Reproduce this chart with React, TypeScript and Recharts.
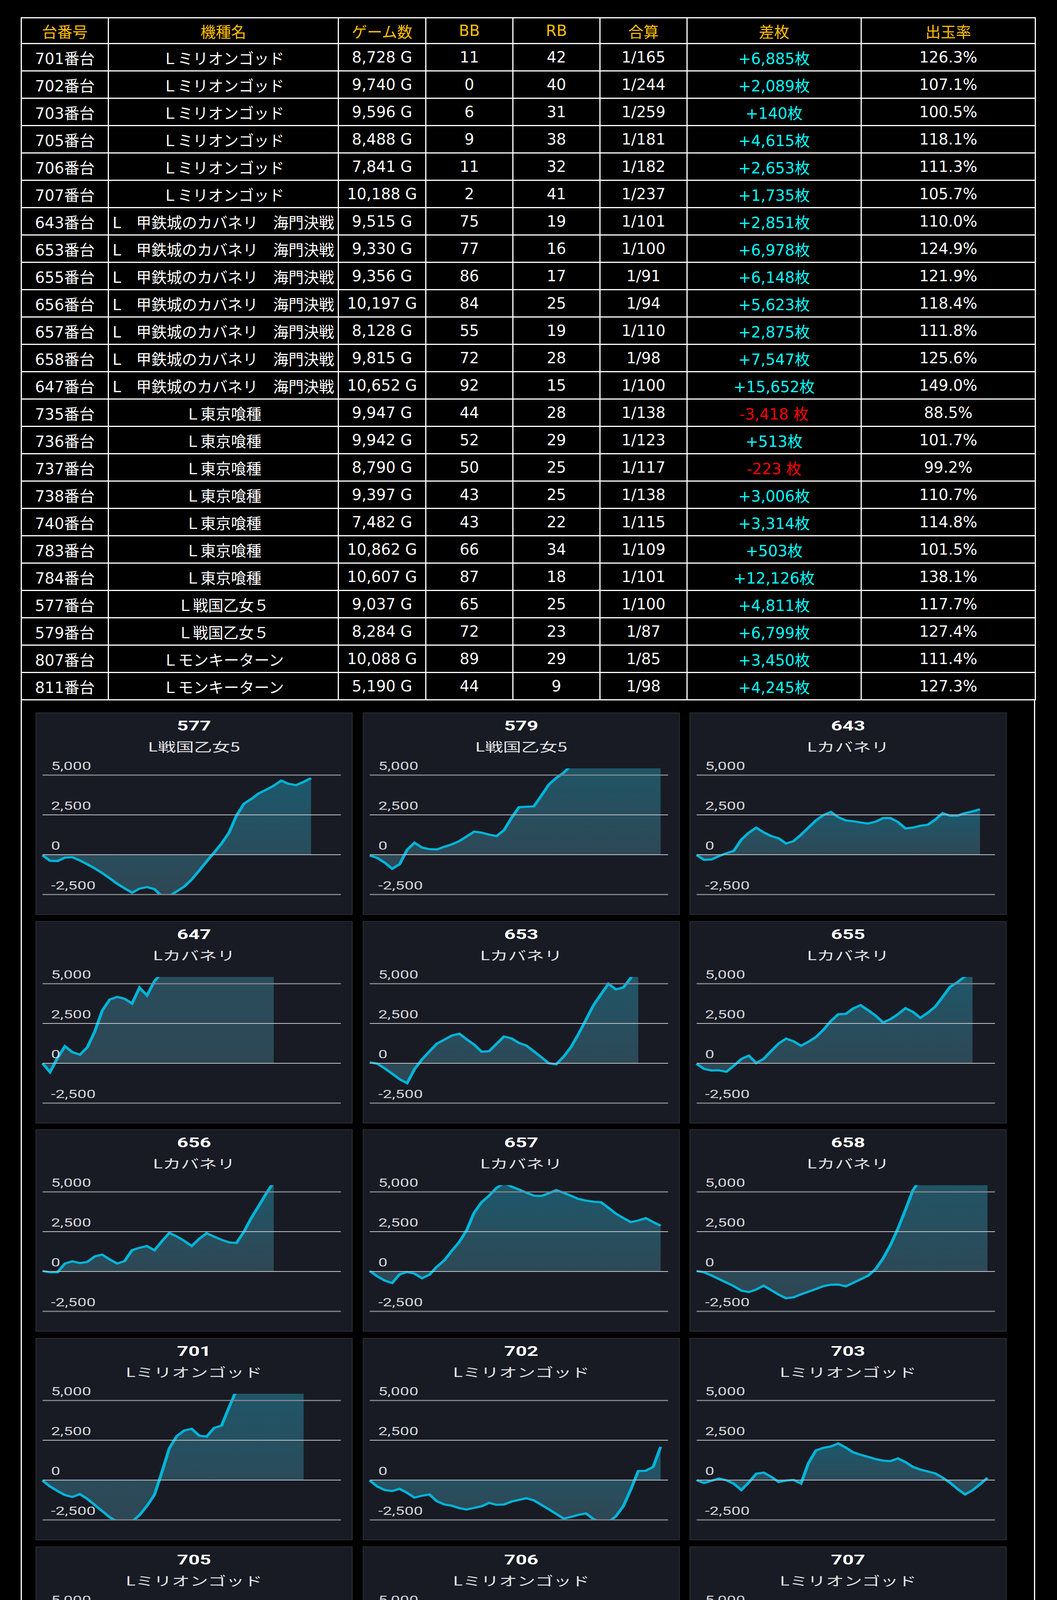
import { Area, AreaChart, ReferenceLine, XAxis, YAxis } from "recharts";

// ---- table data ----
const tableHeaders = ["台番号", "機種名", "ゲーム数", "BB", "RB", "合算", "差枚", "出玉率"];
const unitNos = [
  "701番台", "702番台", "703番台", "705番台", "706番台", "707番台",
  "643番台", "653番台", "655番台", "656番台", "657番台", "658番台", "647番台",
  "735番台", "736番台", "737番台", "738番台", "740番台", "783番台", "784番台",
  "577番台", "579番台", "807番台", "811番台",
];
const MG = "Ｌミリオンゴッド";
const KB = "L　甲鉄城のカバネリ　海門決戦";
const TG = "Ｌ東京喰種";
const SG = "Ｌ戦国乙女５";
const MT = "Ｌモンキーターン";
const machineNames = [MG, MG, MG, MG, MG, MG, KB, KB, KB, KB, KB, KB, KB, TG, TG, TG, TG, TG, TG, TG, SG, SG, MT, MT];
const gameCounts = [
  "8,728 G", "9,740 G", "9,596 G", "8,488 G", "7,841 G", "10,188 G",
  "9,515 G", "9,330 G", "9,356 G", "10,197 G", "8,128 G", "9,815 G", "10,652 G",
  "9,947 G", "9,942 G", "8,790 G", "9,397 G", "7,482 G", "10,862 G", "10,607 G",
  "9,037 G", "8,284 G", "10,088 G", "5,190 G",
];
const bbCounts = [11, 0, 6, 9, 11, 2, 75, 77, 86, 84, 55, 72, 92, 44, 52, 50, 43, 43, 66, 87, 65, 72, 89, 44];
const rbCounts = [42, 40, 31, 38, 32, 41, 19, 16, 17, 25, 19, 28, 15, 28, 29, 25, 25, 22, 34, 18, 25, 23, 29, 9];
const combinedRates = [
  "1/165", "1/244", "1/259", "1/181", "1/182", "1/237",
  "1/101", "1/100", "1/91", "1/94", "1/110", "1/98", "1/100",
  "1/138", "1/123", "1/117", "1/138", "1/115", "1/109", "1/101",
  "1/100", "1/87", "1/85", "1/98",
];
const diffCoins = [
  6885, 2089, 140, 4615, 2653, 1735,
  2851, 6978, 6148, 5623, 2875, 7547, 15652,
  -3418, 513, -223, 3006, 3314, 503, 12126,
  4811, 6799, 3450, 4245,
];
const payoutRates = [
  "126.3%", "107.1%", "100.5%", "118.1%", "111.3%", "105.7%",
  "110.0%", "124.9%", "121.9%", "118.4%", "111.8%", "125.6%", "149.0%",
  "88.5%", "101.7%", "99.2%", "110.7%", "114.8%", "101.5%", "138.1%",
  "117.7%", "127.4%", "111.4%", "127.3%",
];

// ---- slump graph data (coin difference, sampled per step) ----
const STEPS = 40;
const yTicks = [-2500, 0, 2500, 5000];

const s577 = [-30, -380, -400, -180, -160, -360, -600, -860, -1150, -1480, -1820, -2110, -2380, -2130, -2030, -2160, -2600, -2600, -2300, -2000, -1550, -1000, -420, 130, 700, 1380, 2450, 3200, 3500, 3850, 4080, 4330, 4650, 4450, 4370, 4570, 4811];
const s579 = [-50, -200, -500, -880, -600, 300, 750, 450, 350, 330, 500, 650, 850, 1150, 1450, 1380, 1260, 1170, 1540, 2300, 2980, 3010, 3030, 3700, 4400, 4820, 5150, 5600, 5750, 5900, 6050, 6150, 6300, 6250, 6400, 6500, 6450, 6600, 6700, 6799];
const s643 = [-20, -320, -300, -90, 90, 250, 950, 1380, 1700, 1400, 1170, 1030, 700, 850, 1250, 1700, 2150, 2480, 2680, 2350, 2150, 2100, 2020, 1960, 2070, 2300, 2300, 2050, 1650, 1700, 1820, 1880, 2200, 2610, 2450, 2450, 2610, 2720, 2851];
const s647 = [0, -550, 330, 1070, 700, 540, 1000, 2000, 3300, 4000, 4170, 4050, 3750, 4750, 4260, 5150, 5700, 6400, 6900, 7700, 8100, 8900, 9400, 10200, 10700, 11600, 12100, 12900, 13500, 14400, 14900, 15652];
const s653 = [60, -20, -320, -650, -1000, -1250, -370, 245, 740, 1235, 1480, 1740, 1860, 1500, 1170, 730, 760, 1220, 1680, 1560, 1280, 1110, 750, 380, 0, -60, 420, 1030, 1850, 2740, 3650, 4330, 4990, 4640, 4760, 5360, 6978];
const s655 = [-30, -350, -450, -440, -530, -150, 270, 480, 20, 280, 770, 1240, 1550, 1380, 1100, 1350, 1650, 2100, 2650, 3080, 3100, 3440, 3650, 3330, 2990, 2560, 2770, 3080, 3460, 3230, 2850, 3170, 3550, 4170, 4800, 5100, 5450, 6148];
const s656 = [35, -50, -50, 500, 640, 530, 600, 950, 1060, 760, 500, 650, 1340, 1490, 1600, 1330, 1900, 2420, 2200, 1920, 1600, 2050, 2400, 2190, 1990, 1830, 1790, 2490, 3370, 4130, 4900, 5623];
const s657 = [35, -300, -570, -720, -180, -30, -130, -420, -200, 300, 700, 1300, 1850, 2600, 3700, 4350, 4760, 5250, 5550, 5330, 5150, 4950, 4760, 4740, 4910, 5110, 4940, 4750, 4550, 4450, 4380, 4350, 4000, 3630, 3360, 3100, 3200, 3350, 3100, 2875];
const s658 = [35, -50, -250, -470, -700, -920, -1200, -1290, -1130, -890, -1170, -1450, -1680, -1620, -1430, -1270, -1100, -920, -830, -820, -930, -710, -490, -260, 150, 820, 1660, 2700, 3870, 5090, 5800, 6050, 6400, 6550, 6700, 6950, 7050, 7250, 7400, 7547];
const s701 = [-25, -400, -680, -940, -1060, -880, -1180, -1560, -1950, -2330, -2600, -2750, -2600, -2200, -1620, -930, 500, 2000, 2760, 3110, 3220, 2790, 2730, 3270, 3420, 4560, 5650, 5800, 6050, 6150, 6300, 6450, 6550, 6700, 6800, 6885];
const s702 = [-25, -400, -620, -690, -550, -800, -1100, -980, -900, -1330, -1530, -1610, -1760, -1850, -1740, -1640, -1430, -1550, -1530, -1350, -1240, -1140, -1270, -1550, -1830, -2120, -2420, -2310, -2180, -2100, -2450, -2650, -2650, -2270, -1640, -590, 570, 585, 830, 2089];
const s703 = [0, -180, -40, 100, -10, -230, -620, -150, 400, 470, 210, -120, -30, 10, -220, 1070, 1860, 2030, 2110, 2300, 2040, 1740, 1590, 1460, 1320, 1220, 1190, 1360, 1130, 830, 660, 540, 420, 150, -170, -560, -900, -640, -260, 140];
const s705 = [40, 140, -150, -640, -750, -1010, -1430, -1850, -2350, -2600, -2600, -2500, -2600, -2650, -2600, -2040, -1500, -990, -1020, -1360, -1630, -1700, -1400, -1820, -2020, -1660, -1630, -1760, -1670, -1580, -650, 570, 2060, 3300, 4615];
const s706 = [-20, -330, -590, -780, -830, -840, -1000, -1290, -1500, -1710, -1840, -1590, -770, 190, 1060, 1750, 1400, 1150, 1880, 2150, 2360, 2420, 2490, 2590, 2610, 2390, 2170, 1930, 1740, 1800, 1830, 1480, 1160, 1160, 1160, 1590, 2120, 2653];
const s707 = [25, 70, -570, -810, -1110, -1520, -1240, 180, 1830, 2650, 2330, 2170, 2010, 2160, 2520, 2030, 1820, 1600, 1360, 1030, 550, -70, -290, 480, 2430, 2090, 2090, 2100, 1830, 1700, 1820, 1735];
const s735 = [60, -60, 130, 540, 140, -140, -220, -140, 10, -90, -240, -450, -570, -640, -900, -680, -200, -490, -820, -1210, -1440, -1560, -1400, -1580, -1880, -2150, -2300, -2020, -2200, -2550, -2800, -2900, -2750, -2650, -2550, -2480, -2600, -2900, -3100, -3250, -3418];
const s736 = [30, 0, -300, -620, -970, -1320, -1540, -1730, -1700, -1870, -1960, -1490, -980, -370, 540, 1690, 2250, 2350, 2060, 2180, 2450, 2690, 2900, 2800, 2290, 2000, 2290, 2350, 2030, 1630, 1270, 1200, 1160, 1270, 1450, 1700, 1540, 1300, 890, 620, 513];
const s737 = [20, -160, -420, -600, -200, 590, 880, 570, 180, -10, 340, 400, 340, 220, 660, 1310, 1300, 1630, 1950, 2130, 1950, 1680, 1440, 1140, 880, 1000, 1140, 1050, 900, 670, 430, 230, 100, 110, 20, -223];
const s738 = [-20, -400, -690, -890, -1020, -1200, -1490, -1345, -840, -520, -430, -750, -910, -930, -930, -1150, -1410, -1650, -1880, -1920, -2110, -2330, -2520, -2700, -2850, -2950, -3000, -2950, -2900, -2850, -2800, -2140, -1380, -620, 140, 900, 1660, 2420, 3006];
const s740 = [25, -140, -370, -690, -760, -390, 110, 630, 860, 1330, 1940, 2200, 1920, 1630, 1340, 1050, 870, 690, 350, 170, 380, 770, 1370, 2020, 2690, 3350, 3520, 3390, 3190, 2980, 2740, 2500, 2380, 2600, 2920, 3400, 3314];
const s783 = [-60, -400, -430, 180, 650, 510, 250, 120, 130, -160, -370, -300, -280, -480, -920, -1410, -970, -1320, -1500, -1670, -1890, -2030, -1100, -360, -280, -70, 130, 280, 250, 380, 110, -60, 503];
const s784 = [0, 50, 230, 40, -80, 190, 1040, 2030, 3060, 4040, 5060, 5700, 5900, 5800, 5600, 5240, 4740, 4220, 4220, 3840, 3460, 3070, 2690, 2840, 3590, 4900, 5800, 7300, 8500, 9800, 11000, 12126];
const s807 = [0, -210, -500, -690, -840, -990, -880, -850, -280, 90, -190, -110, 260, 690, 820, 850, 1370, 1670, 1990, 2100, 2070, 2260, 2520, 2970, 3350, 3490, 3320, 2930, 2950, 3480, 3450];
const s811 = [0, -280, -560, -660, -750, -750, -740, -740, -750, -820, -560, -170, 310, 880, 1440, 1980, 2530, 3170, 3750, 4400, 5060, 5260, 5350, 5240, 5150, 5270, 5040, 4810, 4620, 4570, 4500, 4245];

const chartNos = ["577", "579", "643", "647", "653", "655", "656", "657", "658", "701", "702", "703", "705", "706", "707", "735", "736", "737", "738", "740", "783", "784", "807", "811"];
const SGC = "L戦国乙女5";
const KBC = "Lカバネリ";
const MGC = "Lミリオンゴッド";
const TGC = "L 東京喰種";
const MTC = "モンキーターンV";
const chartNames = [SGC, SGC, KBC, KBC, KBC, KBC, KBC, KBC, KBC, MGC, MGC, MGC, MGC, MGC, MGC, TGC, TGC, TGC, TGC, TGC, TGC, TGC, MTC, MTC];
const chartSeries = [s577, s579, s643, s647, s653, s655, s656, s657, s658, s701, s702, s703, s705, s706, s707, s735, s736, s737, s738, s740, s783, s784, s807, s811];

const TABLE_FONT = "'DejaVu Sans', 'Noto Sans CJK JP', sans-serif";
const colWidths = [223, 589, 224, 223, 223, 223, 446, 446];

// the graphs in the source are stretched sideways
const STRETCH = 1.45;
const CARD_W = 812;
const CARD_H = 518;
const INNER_W = (CARD_W - 4) / STRETCH;

const fmt = (v: number) => v.toLocaleString("en-US");
const fmtDiff = (v: number) => (v >= 0 ? `+${fmt(v)}枚` : `${fmt(v)} 枚`);

const cellStyle = {
  border: "3px solid #fff",
  textAlign: "center" as const,
  verticalAlign: "middle" as const,
  padding: 0,
  whiteSpace: "nowrap" as const,
  overflow: "hidden",
};

function YTick(props: any) {
  const { x, y, payload } = props;
  return (
    <text x={x} y={y - 23} fill="#d4d5d8" fontSize={29} fontFamily="Roboto" textAnchor="start" dominantBaseline="central">
      {fmt(payload.value)}
    </text>
  );
}

function SlumpCard({ no, name, values }: { no: string; name: string; values: number[] }) {
  const data = values.map((v, i) => ({ i, v }));
  const gid = `fill-${no}`;
  return (
    <div
      style={{
        width: CARD_W,
        height: CARD_H,
        boxSizing: "border-box",
        background: "#181b24",
        border: "2px solid #2c2f37",
        position: "relative",
      }}
    >
      <div
        style={{
          position: "absolute", top: 0, left: 0, width: INNER_W, height: CARD_H - 4,
          transform: `scaleX(${STRETCH})`, transformOrigin: "0 0",
        }}
      >
        <div
          style={{
            position: "absolute", top: 13, left: 0, right: 0, textAlign: "center",
            fontFamily: "Roboto", fontWeight: 700, fontSize: 35, lineHeight: "40px", color: "#fff",
          }}
        >
          {no}
        </div>
        <div
          style={{
            position: "absolute", top: 64, left: 0, right: 0, textAlign: "center",
            fontFamily: "'Noto Sans CJK JP'", fontSize: 32, lineHeight: "40px", color: "#e4e5e8",
          }}
        >
          {name}
        </div>
        <div style={{ position: "absolute", top: 90, left: 0 }}>
          <AreaChart width={INNER_W} height={426} data={data} margin={{ top: 51, right: INNER_W - 780 / STRETCH, bottom: 52, left: 16 / STRETCH }}>
            <defs>
              <linearGradient id={gid} x1="0" y1="0" x2="0" y2="1">
                <stop offset="0%" stopColor="#1ea3c4" stopOpacity={0.45} />
                <stop offset="100%" stopColor="#5ea2b8" stopOpacity={0.32} />
              </linearGradient>
            </defs>
            <XAxis dataKey="i" type="number" domain={[0, STEPS]} hide />
            <YAxis
              type="number"
              domain={[-2500, 5420]}
              ticks={yTicks}
              allowDataOverflow
              mirror
              axisLine={false}
              tickLine={false}
              tickSize={6}
              tickMargin={9}
              tick={<YTick />}
            />
            <ReferenceLine y={5000} stroke="#85888e" strokeWidth={3} />
            <ReferenceLine y={2500} stroke="#c4c6ca" strokeWidth={2} />
            <ReferenceLine y={0} stroke="#c4c6ca" strokeWidth={2} />
            <ReferenceLine y={-2500} stroke="#85888e" strokeWidth={3} />
            <Area
              type="linear"
              dataKey="v"
              stroke="#00b4d8"
              strokeWidth={5.5}
              fill={`url(#${gid})`}
              fillOpacity={1}
              dot={false}
              activeDot={false}
              isAnimationActive={false}
            />
          </AreaChart>
        </div>
      </div>
    </div>
  );
}

export default function App() {
  return (
    <div style={{ position: "relative", width: 2707, height: 6107, background: "#000", overflow: "hidden" }}>
      <style>{"html,body{margin:0;padding:0;background:#000}"}</style>
      <table
        style={{
          position: "absolute", left: 53, top: 44, width: 2598,
          borderCollapse: "collapse", tableLayout: "fixed",
          fontFamily: TABLE_FONT, fontSize: 39, color: "#fff",
        }}
      >
        <colgroup>
          {colWidths.map((w, i) => (
            <col key={i} style={{ width: w }} />
          ))}
        </colgroup>
        <thead>
          <tr style={{ height: 66 }}>
            {tableHeaders.map((h) => (
              <th key={h} style={{ ...cellStyle, color: "#ffc000", fontWeight: 400 }}>
                {h}
              </th>
            ))}
          </tr>
        </thead>
        <tbody>
          {unitNos.map((u, r) => (
            <tr key={u} style={{ height: 70 }}>
              <td style={cellStyle}>{u}</td>
              <td style={cellStyle}>{machineNames[r]}</td>
              <td style={cellStyle}>{gameCounts[r]}</td>
              <td style={cellStyle}>{bbCounts[r]}</td>
              <td style={cellStyle}>{rbCounts[r]}</td>
              <td style={cellStyle}>{combinedRates[r]}</td>
              <td style={{ ...cellStyle, color: diffCoins[r] >= 0 ? "#00ffff" : "#ff0000" }}>{fmtDiff(diffCoins[r])}</td>
              <td style={cellStyle}>{payoutRates[r]}</td>
            </tr>
          ))}
        </tbody>
      </table>
      <div
        style={{
          position: "absolute", left: 53, top: 1791, width: 2598, height: 4400,
          boxSizing: "border-box", borderLeft: "3px solid #fff", borderRight: "3px solid #fff",
          paddingTop: 33, paddingLeft: 35,
          display: "grid", gridTemplateColumns: `repeat(3, ${CARD_W}px)`, gridAutoRows: `${CARD_H}px`,
          columnGap: 25.6, rowGap: 15.7, alignContent: "start",
        }}
      >
        {chartNos.map((no, k) => (
          <SlumpCard key={no} no={no} name={chartNames[k]} values={chartSeries[k]} />
        ))}
      </div>
    </div>
  );
}
